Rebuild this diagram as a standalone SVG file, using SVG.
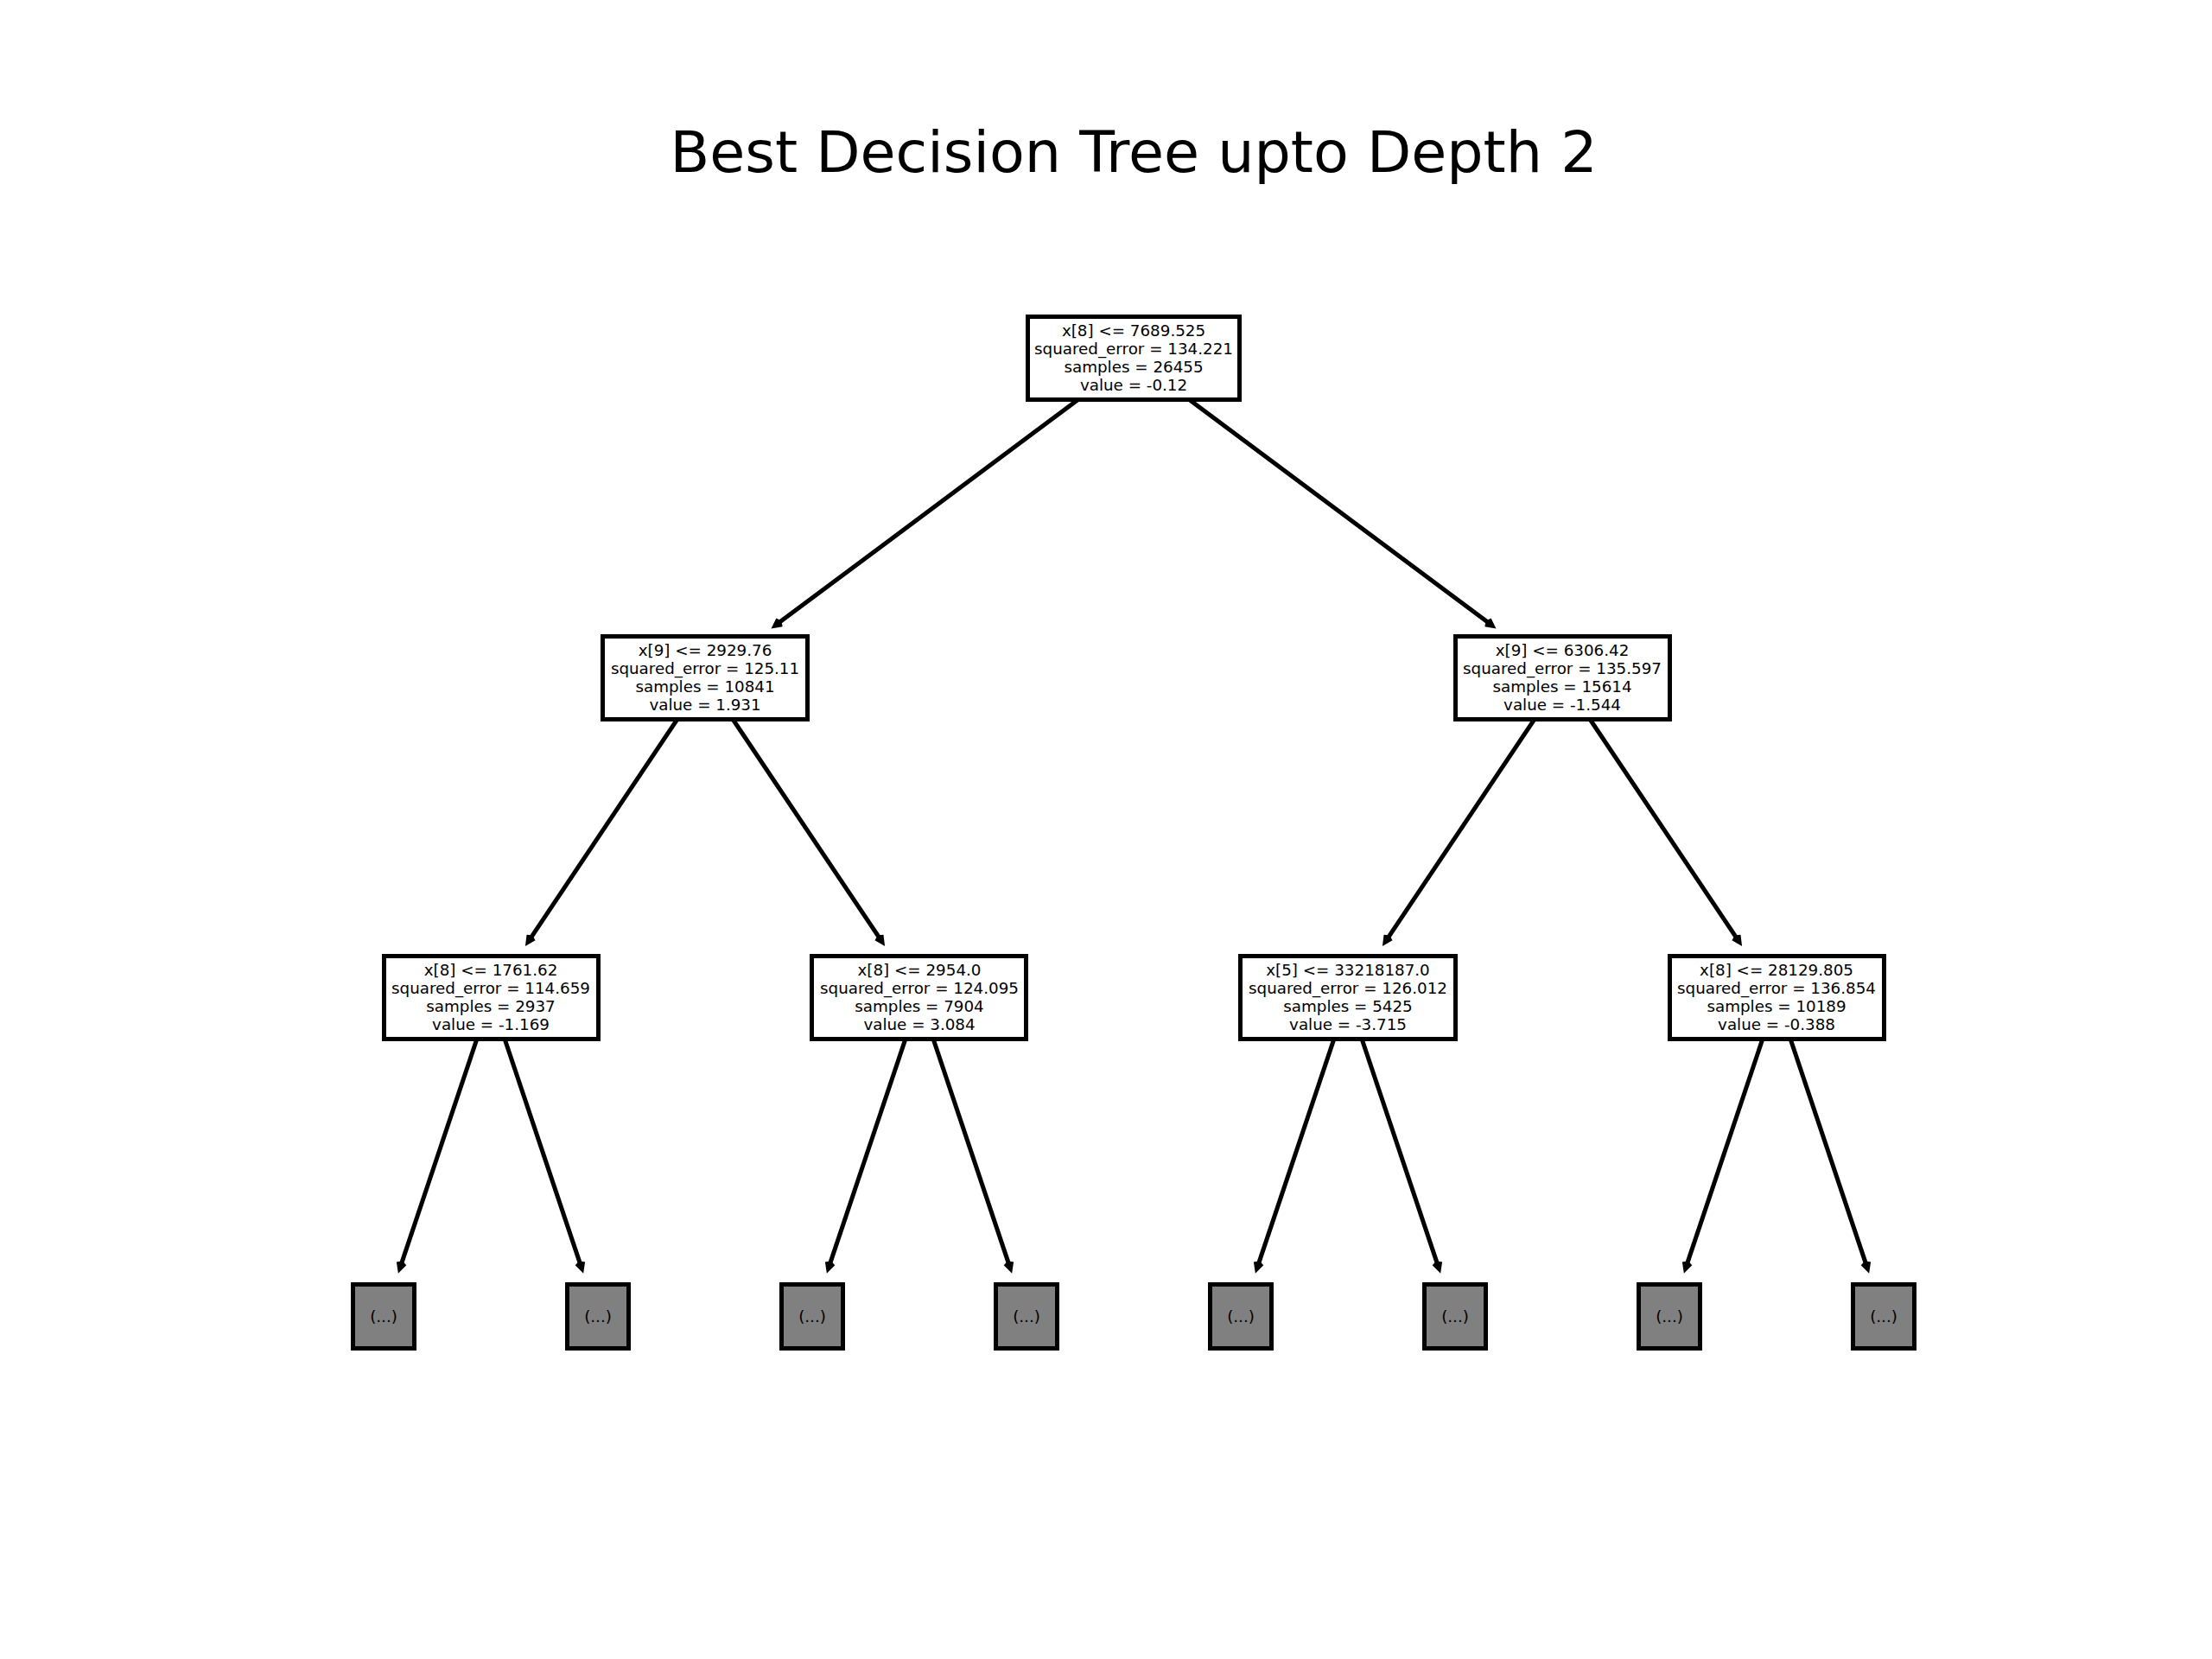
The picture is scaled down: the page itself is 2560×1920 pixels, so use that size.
<svg xmlns="http://www.w3.org/2000/svg" width="2560" height="1920" viewBox="0 0 2560 1920">
<style>
.bg{fill:#fff}
.box{fill:#fff;stroke:#000;stroke-width:5}
.leaf{fill:#808080;stroke:#000;stroke-width:5}
.t{font-family:"DejaVu Sans","Liberation Sans",sans-serif;font-size:18.3px;text-anchor:middle;fill:#000}
.title{font-family:"DejaVu Sans","Liberation Sans",sans-serif;font-size:66.67px;text-anchor:middle;fill:#000}
.edge{stroke:#000;stroke-width:5;fill:none;marker-end:url(#ah)}
</style>
<defs>
<marker id="ah" markerUnits="userSpaceOnUse" orient="auto" markerWidth="30" markerHeight="30" viewBox="-15 -15 30 30" refX="0" refY="0" overflow="visible">
<path d="M-7.5,-3.8 L0,0 L-7.5,3.8" fill="none" stroke="#000" stroke-width="5" stroke-linejoin="miter"/>
</marker>
</defs>
<rect class="bg" x="0" y="0" width="2560" height="1920"/>
<text class="title" x="1312" y="199">Best Decision Tree upto Depth 2</text>
<g id="connectors">
<line class="edge" x1="1312" y1="414.5" x2="896.9" y2="724.1"/>
<line class="edge" x1="1312" y1="414.5" x2="1727.1" y2="724.1"/>
<line class="edge" x1="816" y1="784.5" x2="611" y2="1090.3"/>
<line class="edge" x1="816" y1="784.5" x2="1021" y2="1090.3"/>
<line class="edge" x1="1808" y1="784.5" x2="1603" y2="1090.3"/>
<line class="edge" x1="1808" y1="784.5" x2="2013" y2="1090.3"/>
<line class="edge" x1="568" y1="1154.5" x2="462.6" y2="1468.4"/>
<line class="edge" x1="568" y1="1154.5" x2="673.4" y2="1468.4"/>
<line class="edge" x1="1064" y1="1154.5" x2="958.6" y2="1468.4"/>
<line class="edge" x1="1064" y1="1154.5" x2="1169.4" y2="1468.4"/>
<line class="edge" x1="1560" y1="1154.5" x2="1454.6" y2="1468.4"/>
<line class="edge" x1="1560" y1="1154.5" x2="1665.4" y2="1468.4"/>
<line class="edge" x1="2056" y1="1154.5" x2="1950.6" y2="1468.4"/>
<line class="edge" x1="2056" y1="1154.5" x2="2161.4" y2="1468.4"/>
</g>
<g id="node0">
<rect class="box" x="1189.5" y="366.5" width="245" height="96"/>
<text class="t" x="1312" y="389">x[8] &lt;= 7689.525</text>
<text class="t" x="1312" y="410">squared_error = 134.221</text>
<text class="t" x="1312" y="431">samples = 26455</text>
<text class="t" x="1312" y="452">value = -0.12</text>
</g>
<g id="node1">
<rect class="box" x="697.5" y="736.5" width="237" height="96"/>
<text class="t" x="816" y="759">x[9] &lt;= 2929.76</text>
<text class="t" x="816" y="780">squared_error = 125.11</text>
<text class="t" x="816" y="801">samples = 10841</text>
<text class="t" x="816" y="822">value = 1.931</text>
</g>
<g id="node2">
<rect class="box" x="1684.5" y="736.5" width="248" height="96"/>
<text class="t" x="1808" y="759">x[9] &lt;= 6306.42</text>
<text class="t" x="1808" y="780">squared_error = 135.597</text>
<text class="t" x="1808" y="801">samples = 15614</text>
<text class="t" x="1808" y="822">value = -1.544</text>
</g>
<g id="node3">
<rect class="box" x="444.5" y="1106.5" width="248" height="96"/>
<text class="t" x="568" y="1129">x[8] &lt;= 1761.62</text>
<text class="t" x="568" y="1150">squared_error = 114.659</text>
<text class="t" x="568" y="1171">samples = 2937</text>
<text class="t" x="568" y="1192">value = -1.169</text>
</g>
<g id="node4">
<rect class="box" x="939.5" y="1106.5" width="248" height="96"/>
<text class="t" x="1064" y="1129">x[8] &lt;= 2954.0</text>
<text class="t" x="1064" y="1150">squared_error = 124.095</text>
<text class="t" x="1064" y="1171">samples = 7904</text>
<text class="t" x="1064" y="1192">value = 3.084</text>
</g>
<g id="node5">
<rect class="box" x="1435.5" y="1106.5" width="249" height="96"/>
<text class="t" x="1560" y="1129">x[5] &lt;= 33218187.0</text>
<text class="t" x="1560" y="1150">squared_error = 126.012</text>
<text class="t" x="1560" y="1171">samples = 5425</text>
<text class="t" x="1560" y="1192">value = -3.715</text>
</g>
<g id="node6">
<rect class="box" x="1932.5" y="1106.5" width="248" height="96"/>
<text class="t" x="2056" y="1129">x[8] &lt;= 28129.805</text>
<text class="t" x="2056" y="1150">squared_error = 136.854</text>
<text class="t" x="2056" y="1171">samples = 10189</text>
<text class="t" x="2056" y="1192">value = -0.388</text>
</g>
<g id="leaf0"><rect class="leaf" x="408.5" y="1486.5" width="71" height="74"/><text class="t" x="444" y="1530">(...)</text></g>
<g id="leaf1"><rect class="leaf" x="656.5" y="1486.5" width="71" height="74"/><text class="t" x="692" y="1530">(...)</text></g>
<g id="leaf2"><rect class="leaf" x="904.5" y="1486.5" width="71" height="74"/><text class="t" x="940" y="1530">(...)</text></g>
<g id="leaf3"><rect class="leaf" x="1152.5" y="1486.5" width="71" height="74"/><text class="t" x="1188" y="1530">(...)</text></g>
<g id="leaf4"><rect class="leaf" x="1400.5" y="1486.5" width="71" height="74"/><text class="t" x="1436" y="1530">(...)</text></g>
<g id="leaf5"><rect class="leaf" x="1648.5" y="1486.5" width="71" height="74"/><text class="t" x="1684" y="1530">(...)</text></g>
<g id="leaf6"><rect class="leaf" x="1896.5" y="1486.5" width="71" height="74"/><text class="t" x="1932" y="1530">(...)</text></g>
<g id="leaf7"><rect class="leaf" x="2144.5" y="1486.5" width="71" height="74"/><text class="t" x="2180" y="1530">(...)</text></g>
</svg>
